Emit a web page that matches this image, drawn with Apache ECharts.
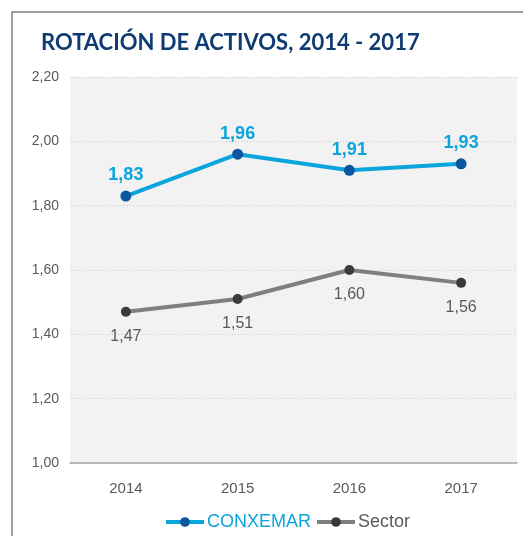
<!DOCTYPE html>
<html>
<head>
<meta charset="utf-8">
<script src="https://cdn.jsdelivr.net/npm/echarts@6/dist/echarts.min.js"></script>
<style>
  html, body { margin: 0; padding: 0; background: #fff; }
  #main { width: 523px; height: 536px; }
</style>
</head>
<body>
<div id="main"></div>
<script>
// datos
var years = ['2014', '2015', '2016', '2017'];
var conxemar = [1.83, 1.96, 1.91, 1.93];
var sector = [1.47, 1.51, 1.60, 1.56];

var comma = function (v) { return v.toFixed(2).replace('.', ','); };

var chart = echarts.init(document.getElementById('main'));
chart.setOption({
  backgroundColor: '#ffffff',
  animation: false,
  title: {
    text: 'ROTACIÓN DE ACTIVOS, 2014 - 2017',
    left: 36,
    top: 27,
    textStyle: { fontFamily: 'Lato', fontWeight: 'bold', fontSize: 22, color: '#0f3b73' }
  },
  graphic: [
    {
      type: 'polyline',
      shape: { points: [[12, 536], [12, 12], [523, 12]] },
      style: { stroke: '#a0a0a0', lineWidth: 2, fill: null }
    }
  ],
  legend: {
    bottom: 0,
    left: 159,
    itemWidth: 38,
    itemHeight: 12,
    itemGap: 4,
    lineStyle: { width: 4 },
    data: [
      { name: 'CONXEMAR', textStyle: { color: '#0aa5dd', fontSize: 18 } },
      { name: 'Sector', textStyle: { color: '#595959', fontSize: 18 } }
    ],
    textStyle: { fontFamily: 'Liberation Sans', padding: [0, 0, 0, -2] }
  },
  grid: {
    left: 70, right: 6, top: 77, bottom: 73,
    show: true, backgroundColor: '#f2f2f2', borderWidth: 0
  },
  xAxis: {
    type: 'category',
    data: years,
    boundaryGap: true,
    axisLine: { lineStyle: { color: '#a6a6a6', width: 1.5 } },
    axisTick: { inside: true, length: 4, lineStyle: { color: '#a6a6a6' } },
    axisLabel: { color: '#595959', fontSize: 15, fontFamily: 'Liberation Sans', margin: 18 }
  },
  yAxis: {
    type: 'value',
    min: 1, max: 2.2, interval: 0.2,
    axisLine: { show: false },
    axisTick: { show: false },
    axisLabel: {
      color: '#595959', fontSize: 14, fontFamily: 'Liberation Sans', margin: 11,
      formatter: function (v) { return comma(v); }
    },
    splitLine: { lineStyle: { color: '#c8c8c8', type: [1, 2] } }
  },
  series: [
    {
      name: 'CONXEMAR',
      type: 'line',
      data: conxemar,
      symbol: 'circle',
      symbolSize: 11,
      lineStyle: { color: '#0aa5dd', width: 4 },
      itemStyle: { color: '#0a56a0' },
      label: {
        show: true, position: 'top', distance: 6,
        color: '#0aa5dd', fontSize: 18, fontWeight: 'bold', fontFamily: 'Liberation Sans',
        formatter: function (p) { return comma(p.value); }
      }
    },
    {
      name: 'Sector',
      type: 'line',
      data: sector,
      symbol: 'circle',
      symbolSize: 10,
      lineStyle: { color: '#7f7f7f', width: 4 },
      itemStyle: { color: '#3a3a3a' },
      label: {
        show: true, position: 'bottom', distance: 12,
        color: '#595959', fontSize: 16, fontFamily: 'Liberation Sans',
        formatter: function (p) { return comma(p.value); }
      }
    }
  ]
});
</script>
</body>
</html>
